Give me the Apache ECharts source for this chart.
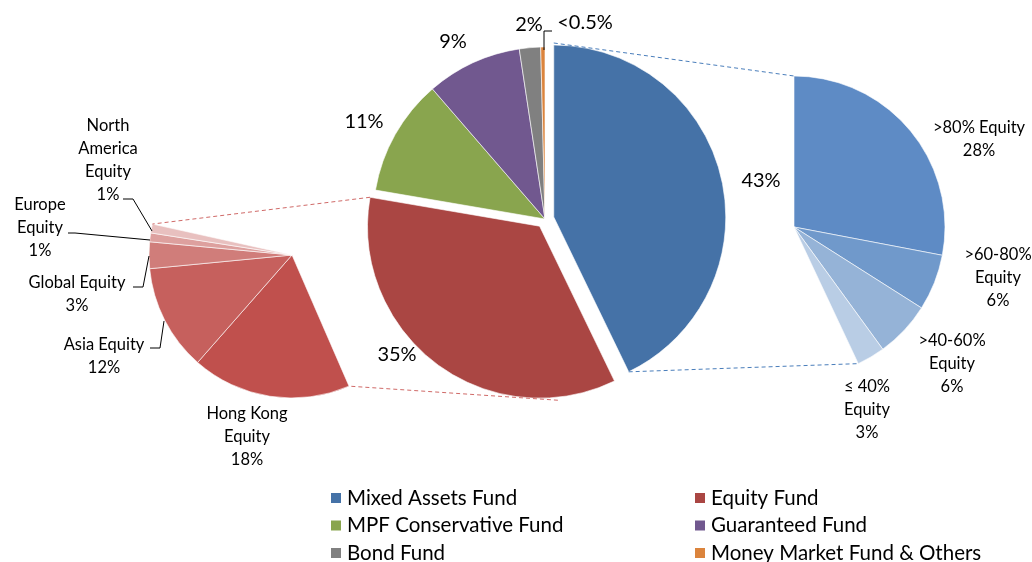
<!DOCTYPE html>
<html>
<head>
<meta charset="utf-8">
<script src="https://cdn.jsdelivr.net/npm/echarts@6/dist/echarts.min.js"></script>
<style>
  html, body { margin: 0; background: #fff; }
  #main { width: 1032px; height: 562px; }
</style>
</head>
<body>
<div id="main"></div>
<script>
// fund mix (main pie)
var fundNames = ['Mixed Assets Fund', 'Equity Fund', 'MPF Conservative Fund', 'Guaranteed Fund', 'Bond Fund', 'Money Market Fund & Others'];
var fundValues = [43, 35, 11, 9, 2, 0.4];
var fundLabels = ['43%', '35%', '11%', '9%', '2%', '<0.5%'];

// breakdown of mixed assets fund (right)
var mixedNames = ['>80% Equity', '>60-80%\nEquity', '>40-60%\nEquity', '≤ 40%\nEquity'];
var mixedValues = [28, 6, 6, 3];

// breakdown of equity fund (left)
var equityNames = ['Hong Kong\nEquity', 'Asia Equity', 'Global Equity', 'Europe\nEquity', 'North\nAmerica\nEquity'];
var equityValues = [18, 12, 3, 1, 1];

var fundColors = ['#4572A7', '#AA4643', '#89A54E', '#71588F', '#808080', '#DB843D'];
var mixedColors = ['#5E8BC5', '#7099CB', '#95B3D7', '#B9CDE5'];
var equityColors = ['#C0504D', '#C6605D', '#D07D7A', '#DDA09E', '#E8C0BF'];

var FONT = 'Lato';

// geometry
var mainCenter = [545, 219], mainR = 172, explode = 9;
var leftCenter = [292, 255], leftR = 143, leftStart = -66.5;
var rightCenter = [794, 227], rightR = 151;

// label anchor points
var mainLabelPos = [[761, 181], [397, 355], [364, 122], [453, 42], [529, 25], [585, 23]];
var rightLabelPos = [[979, 139], [998, 278], [952, 364], [867, 410]];
var leftLabelPos = [[247, 437], [104, 356], [77, 294], [40, 228], [108, 160]];

// leader lines
var leaders = [
  [[544, 50], [544, 31], [552, 31]],
  [[164, 321], [160, 348], [150, 348]],
  [[149, 256], [143, 287], [133, 287]],
  [[150, 240], [75, 233], [68, 233]],
  [[152, 231], [133, 199], [123, 199]]
];

function sum(a) { return a.reduce(function (s, v) { return s + v; }, 0); }
function polar(c, r, deg) {
  var a = deg * Math.PI / 180;
  return [c[0] + r * Math.cos(a), c[1] - r * Math.sin(a)];
}

var HIDDEN = { color: 'rgba(0,0,0,0)', borderWidth: 0 };

function buildItems(names, values, colors, total) {
  var items = names.map(function (n, i) {
    return { name: n, value: values[i], itemStyle: { color: colors[i] } };
  });
  if (total != null) {
    items.push({ name: '', value: total - sum(values), itemStyle: HIDDEN, label: { show: false } });
  }
  return items;
}

// main pie split in layers so the two exploded slices get their own centre
function fundItems(keep) {
  return fundNames.map(function (n, i) {
    if (keep.indexOf(i) >= 0) return { name: n, value: fundValues[i], itemStyle: { color: fundColors[i] } };
    return { name: '', value: fundValues[i], itemStyle: HIDDEN, label: { show: false } };
  });
}

// angles / exploded centres
var mainTotal = sum(fundValues);
var a0 = 90, a1 = 90 - fundValues[0] / mainTotal * 360, a2 = a1 - fundValues[1] / mainTotal * 360;
var offMixed = polar(mainCenter, explode, (a0 + a1) / 2);
var offEquity = polar(mainCenter, explode, (a1 + a2) / 2);
var rightEnd = 90 - sum(mixedValues) / 100 * 360;
var leftEnd = leftStart - sum(equityValues) / 100 * 360;

function seg(p, q, color) {
  return {
    type: 'line', z: 10,
    shape: { x1: p[0], y1: p[1], x2: q[0], y2: q[1] },
    style: { stroke: color, lineWidth: 1, lineDash: [4, 3] }
  };
}

var graphics = [
  seg(polar(offMixed, mainR + 2, a0), polar(rightCenter, rightR, 90), '#4A7EBB'),
  seg(polar(offMixed, mainR, a1), polar(rightCenter, rightR, rightEnd), '#4A7EBB'),
  seg(polar(offEquity, mainR, a2), polar(leftCenter, leftR, leftEnd), '#D06A68'),
  seg(polar(offEquity, mainR + 3, -84), polar(leftCenter, leftR, leftStart), '#D06A68')
];
leaders.forEach(function (pts) {
  graphics.push({
    type: 'polyline', z: 10,
    shape: { points: pts },
    style: { stroke: '#000', lineWidth: 1, fill: null }
  });
});

function placeLabels(positions) {
  return function (p) {
    var pos = positions[p.dataIndex];
    if (!pos) return {};
    return { x: pos[0], y: pos[1], align: 'center', verticalAlign: 'middle' };
  };
}

var chart = echarts.init(document.getElementById('main'), null, { renderer: 'canvas' });

var pieBase = {
  type: 'pie',
  silent: true,
  animation: false,
  avoidLabelOverlap: false,
  emphasis: { disabled: true },
  labelLine: { show: false },
  itemStyle: { borderColor: '#fff', borderWidth: 0.6 }
};

var mainLabel = {
  position: 'inside', color: '#000', fontFamily: FONT, fontSize: 20, overflow: 'none',
  formatter: function (p) { return fundLabels[p.dataIndex]; }
};
var subLabel = {
  position: 'inside', color: '#000', fontFamily: FONT, fontSize: 16.5, lineHeight: 23, overflow: 'none',
  formatter: '{b}\n{c}%'
};

function mainLayer(keep, center) {
  return Object.assign({}, pieBase, {
    center: center,
    radius: [0, mainR],
    startAngle: 90,
    label: mainLabel,
    labelLayout: placeLabels(mainLabelPos),
    data: fundItems(keep)
  });
}

var legendBase = {
  orient: 'vertical', top: 482, height: 120,
  icon: 'rect', itemWidth: 12, itemHeight: 12, itemGap: 5.5,
  selectedMode: false,
  textStyle: { fontFamily: FONT, fontSize: 20.5, color: '#000', lineHeight: 22 }
};

chart.setOption({
  backgroundColor: '#fff',
  animation: false,
  legend: [
    Object.assign({}, legendBase, { left: 324, data: [fundNames[0], fundNames[2], fundNames[4]] }),
    Object.assign({}, legendBase, { left: 688, data: [fundNames[1], fundNames[3], fundNames[5]] })
  ],
  graphic: graphics,
  series: [
    mainLayer([0], offMixed),
    mainLayer([1], offEquity),
    mainLayer([2, 3, 4, 5], mainCenter),
    Object.assign({}, pieBase, {
      name: 'mixed',
      center: rightCenter,
      radius: [0, rightR],
      startAngle: 90,
      label: subLabel,
      labelLayout: placeLabels(rightLabelPos),
      data: buildItems(mixedNames, mixedValues, mixedColors, 100)
    }),
    Object.assign({}, pieBase, {
      name: 'equity',
      center: leftCenter,
      radius: [0, leftR],
      startAngle: leftStart,
      label: subLabel,
      labelLayout: placeLabels(leftLabelPos),
      data: buildItems(equityNames, equityValues, equityColors, 100)
    })
  ]
});
</script>
</body>
</html>
